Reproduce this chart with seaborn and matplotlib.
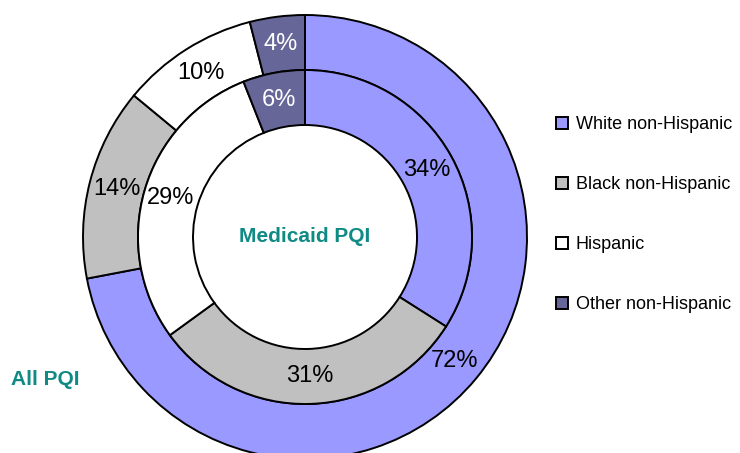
import matplotlib
matplotlib.use("Agg")
import matplotlib.pyplot as plt
from matplotlib.patches import Patch
from matplotlib import font_manager
import seaborn as sns

# ---- data ----
categories = ["White non-Hispanic", "Black non-Hispanic", "Hispanic", "Other non-Hispanic"]
all_pqi = [72, 14, 10, 4]
medicaid_pqi = [34, 31, 29, 6]
colors = ["#9999FF", "#C0C0C0", "#FFFFFF", "#666699"]
label_colors = ["black", "black", "black", "white"]
outer_title = "All PQI"
inner_title = "Medicaid PQI"

sns.set_theme(style="white")
names = {f.name for f in font_manager.fontManager.ttflist}
narrow = "Liberation Sans Narrow" if "Liberation Sans Narrow" in names else "Liberation Sans"
plt.rcParams["font.family"] = ["Liberation Sans", "DejaVu Sans"]
plt.rcParams["text.color"] = "black"

W, H = 740, 453
cx, cy, R = 305, 237, 222   # pixel geometry
r_mid, r_in = 167, 112

fig = plt.figure(figsize=(W / 100, H / 100), dpi=100)
ax = fig.add_axes([0, 0, 1, 1])
ax.axis("off")

ring_w = (R - r_mid) / R
wp = dict(width=ring_w, edgecolor="black", linewidth=1.4)

w1, t1, a1 = ax.pie(all_pqi, radius=1.0, colors=colors, startangle=90,
                    counterclock=False, wedgeprops=wp,
                    autopct="%.0f%%", pctdistance=1 - ring_w / 2,
                    textprops=dict(fontsize=17, family=narrow))
w2, t2, a2 = ax.pie(medicaid_pqi, radius=r_mid / R, colors=colors, startangle=90,
                    counterclock=False, wedgeprops=wp,
                    autopct="%.0f%%", pctdistance=1 - (ring_w * R / r_mid) / 2,
                    textprops=dict(fontsize=17, family=narrow))
ax.set_xlim(-cx / R, (W - cx) / R)
ax.set_ylim(-(H - cy) / R, cy / R)
ax.set_aspect("auto")
ax.axis("off")

for txts in (a1, a2):
    for t, c in zip(txts, label_colors):
        t.set_color(c)

teal = "#0F8A84"
ax.text(0, 0, inner_title, ha="center", va="center", fontsize=15,
        fontweight="bold", color=teal, family=narrow)
ax.text((45 - cx) / R, (cy - 380) / R, outer_title, ha="center", va="center",
        fontsize=15, fontweight="bold", color=teal, family=narrow)

handles = [Patch(facecolor=c, edgecolor="black", linewidth=1.4) for c in colors]
leg = ax.legend(handles, categories, loc="upper left",
                bbox_to_anchor=(556 / W, 1 - 116 / H), frameon=False,
                fontsize=13, handlelength=0.65, handleheight=0.65,
                handletextpad=0.45, labelspacing=2.38, borderpad=0, borderaxespad=0,
                labelcolor="black")

fig.savefig("out.png", dpi=100)
